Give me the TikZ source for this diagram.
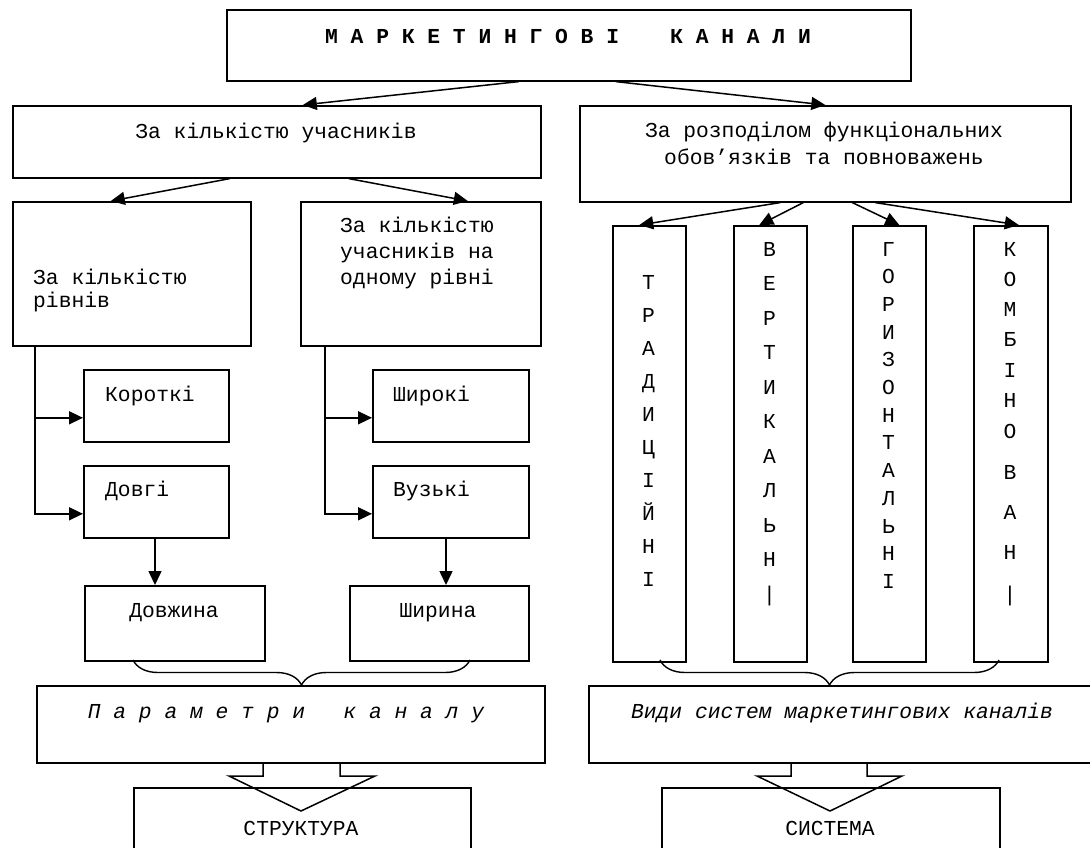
\documentclass[tikz,border=0pt]{standalone}
\usepackage{fontspec}
\newfontfamily\cour{Liberation Mono}
\usetikzlibrary{arrows.meta,decorations.pathreplacing}

\newcommand\boxfont{\cour\fontsize{21.3}{26}\selectfont}

\tikzset{
    box/.style={rectangle, draw, line width=1.6pt, anchor=north west, inner sep=0pt},
    txt/.style={font=\boxfont, inner sep=0pt, anchor=base},
    ltxt/.style={txt, anchor=base west, align=left},
    arr/.style={-{Triangle[length=14pt,width=13pt]}, line width=1.5pt},
    brace/.style={decorate, decoration={brace, mirror, amplitude=25pt}, line width=1.4pt},
    fatarrow/.style={line width=1.5pt, line join=miter}
}

\begin{document}
\begin{tikzpicture}[x=1pt, y=-1pt]
    \useasboundingbox (0,0) rectangle (1090,847);

    % top level
    \node[box, minimum width=684, minimum height=71] (title) at (226,9) {};
    \node[txt, font=\boxfont\bfseries] (title-t) at (568,43) {М~А~Р~К~Е~Т~И~Н~Г~О~В~І~~~~К~А~Н~А~Л~И};

    \node[box, minimum width=528, minimum height=72] (l1) at (12,105) {};
    \node[txt] (l1-t) at (276,138) {За кількістю учасників};

    \node[box, minimum width=491, minimum height=96] (r1) at (579,105) {};
    \node[txt, align=center, font=\cour\fontsize{21.3}{27}\selectfont] (r1-t) at (824,164) {За розподілом функціональних\\обов’язків та повноважень};

    \draw[arr] ([xshift=-50pt]title.south) -- ([xshift=26pt]l1.north);
    \draw[arr] ([xshift=47pt]title.south) -- (r1.north);

    % left branch
    \node[box, minimum width=238, minimum height=144] (l2) at (12,201) {};
    \node[ltxt, font=\cour\fontsize{21.3}{23}\selectfont] (l2-t) at (33,307) {За кількістю\\рівнів};

    \node[box, minimum width=240, minimum height=144] (l3) at (300,201) {};
    \node[ltxt] (l3-t) at (340,284) {За кількістю\\учасників на\\одному рівні};

    \draw[arr] ([xshift=-47pt]l1.south) -- ([xshift=-21pt]l2.north);
    \draw[arr] ([xshift=72pt]l1.south) -- ([xshift=47pt]l3.north);

    \node[box, minimum width=145, minimum height=72] (korotki) at (83,369) {};
    \node[ltxt] (korotki-t) at (105,401) {Короткі};
    \node[box, minimum width=145, minimum height=72] (dovhi) at (83,465) {};
    \node[ltxt] (dovhi-t) at (105,496) {Довгі};

    \node[box, minimum width=156, minimum height=72] (shyroki) at (372,369) {};
    \node[ltxt] (shyroki-t) at (393,401) {Широкі};
    \node[box, minimum width=156, minimum height=72] (vuzki) at (372,465) {};
    \node[ltxt] (vuzki-t) at (393,496) {Вузькі};

    \draw[arr] ([xshift=23pt]l2.south west) |- ([yshift=-12pt]korotki.west);
    \draw[arr] ([xshift=23pt]l2.south west) |- ([yshift=-12pt]dovhi.west);
    \draw[arr] ([xshift=25pt]l3.south west) |- ([yshift=-12pt]shyroki.west);
    \draw[arr] ([xshift=25pt]l3.south west) |- ([yshift=-12pt]vuzki.west);

    \node[box, minimum width=180, minimum height=75] (dovzhyna) at (84,585) {};
    \node[txt] (dovzhyna-t) at (174,617) {Довжина};
    \node[box, minimum width=179, minimum height=75] (shyryna) at (349,585) {};
    \node[txt] (shyryna-t) at (438,617) {Ширина};

    \draw[arr] (dovzhyna.north -| 155,0) ++(0,-48) -- (dovzhyna.north -| 155,0);
    \draw[arr] (shyryna.north -| 446,0) ++(0,-48) -- (shyryna.north -| 446,0);

    \draw[brace] (133,660) -- (470,660);

    \node[box, minimum width=508, minimum height=77] (param) at (36,685) {};
    \node[txt, font=\boxfont\itshape] (param-t) at (286,718) {П~а~р~а~м~е~т~р~и~~~к~а~н~а~л~у};

    \node[box, minimum width=337, minimum height=80] (struct) at (133,787) {};
    \node[txt] (struct-t) at (301,835) {СТРУКТУРА};
    \draw[fatarrow] (263,762) -- (263,776) -- (229,776) -- (301,811) -- (375,776) -- (340,776) -- (340,762);

    % right branch
    \node[box, minimum width=73, minimum height=436] (trad) at (612,225) {};
    \node[box, minimum width=73, minimum height=436] (vert) at (733,225) {};
    \node[box, minimum width=73, minimum height=436] (horiz) at (852,225) {};
    \node[box, minimum width=74, minimum height=436] (komb) at (973,225) {};

    \foreach \ch [count=\i from 0] in {Т,Р,А,Д,И,Ц,І,Й,Н,І}
        \node[txt] (trad-\i) at (648.5, 289+33*\i) {\ch};
    \foreach \ch [count=\i from 0] in {В,Е,Р,Т,И,К,А,Л,Ь,Н,|}
        \node[txt] (vert-\i) at (769.5, 256+34.5*\i) {\ch};
    \foreach \ch [count=\i from 0] in {Г,О,Р,И,З,О,Н,Т,А,Л,Ь,Н,І}
        \node[txt] (horiz-\i) at (888.5, 256+27.7*\i) {\ch};
    \foreach \ch/\yy [count=\i from 0] in {К/256,О/286,М/316,Б/346,І/377,Н/407,О/438,В/479,А/519,Н/559,|/601}
        \node[txt] (komb-\i) at (1010, \yy) {\ch};

    \draw[arr] ([xshift=-45pt]r1.south) -- ([xshift=-10pt]trad.north);
    \draw[arr] ([xshift=-22pt]r1.south) -- ([xshift=-11pt]vert.north);
    \draw[arr] ([xshift=27pt]r1.south) -- ([xshift=10pt]horiz.north);
    \draw[arr] ([xshift=50pt]r1.south) -- ([xshift=8pt]komb.north);

    \draw[brace] (660,660) -- (999,660);

    \node[box, minimum width=510, minimum height=77] (vydy) at (588,685) {};
    \node[txt, font=\boxfont\itshape] (vydy-t) at (842,718) {Види систем маркетингових каналів};

    \node[box, minimum width=338, minimum height=80] (system) at (661,787) {};
    \node[txt] (system-t) at (830,835) {СИСТЕМА};
    \draw[fatarrow] (791,762) -- (791,776) -- (757,776) -- (830,811) -- (902,776) -- (867,776) -- (867,762);
\end{tikzpicture}
\end{document}
